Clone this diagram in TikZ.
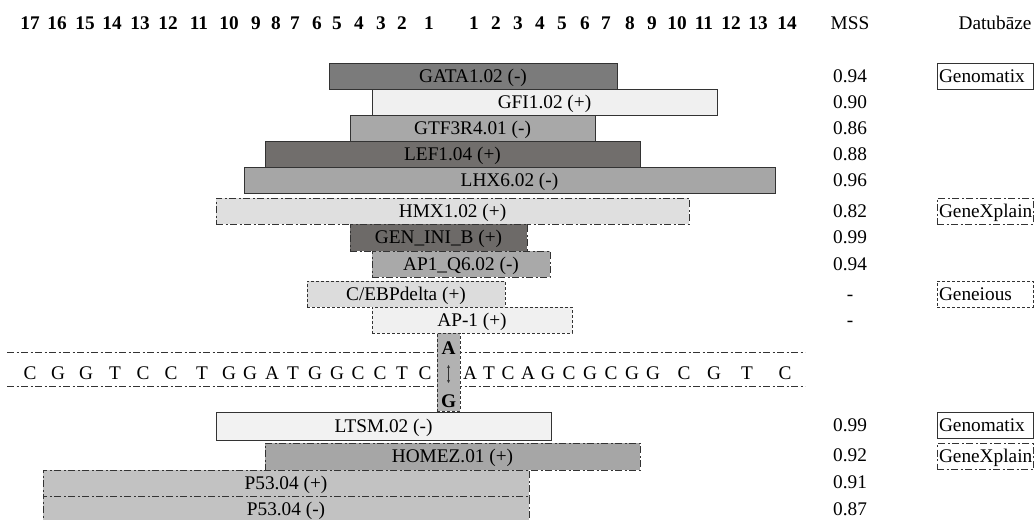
\documentclass[tikz,border=0pt]{standalone}
\usepackage{fontspec}
\setmainfont{Liberation Serif}
\usetikzlibrary{arrows.meta}
\definecolor{cGATA}{HTML}{7B7B7B}
\definecolor{cGFI}{HTML}{F0F0F0}
\definecolor{cGTF}{HTML}{A8A8A8}
\definecolor{cLEF}{HTML}{716E6C}
\definecolor{cLHX}{HTML}{A6A6A6}
\definecolor{cHMX}{HTML}{DFDFDF}
\definecolor{cGEN}{HTML}{6D6A68}
\definecolor{cAPQ}{HTML}{A9A9A9}
\definecolor{cCEB}{HTML}{DCDCDC}
\definecolor{cAPO}{HTML}{F0F0F0}
\definecolor{cMUT}{HTML}{B2B2B2}
\definecolor{cLTS}{HTML}{F2F2F2}
\definecolor{cHOM}{HTML}{A6A6A6}
\definecolor{cP53}{HTML}{C2C2C2}
\definecolor{edge}{HTML}{333333}
\begin{document}
\begin{tikzpicture}[x=1pt,y=-1pt,
  every node/.style={font=\fontsize{19.3}{22}\selectfont, inner sep=0pt, text height=14pt, text depth=2pt},
  hdr/.style={font=\fontsize{19.3}{22}\selectfont\bfseries},
  bar/.style={draw=edge, line width=0.8pt, minimum height=26pt},
  ddbar/.style={bar, dash pattern=on 7pt off 2.5pt on 2pt off 2.5pt},
  dshbar/.style={bar, dash pattern=on 3pt off 2pt},
  dbbox/.style={draw=edge, line width=0.8pt, minimum height=26pt, text width=92pt, inner xsep=2pt, align=left},
  seqline/.style={draw=edge, line width=0.8pt, dash pattern=on 7pt off 2.5pt on 2pt off 2.5pt}]
\fill[white] (0,0) rectangle (1035,519);
\useasboundingbox (0,0) rectangle (1035,519);

% header numbers
\foreach \n/\x in {17/30,16/57,15/85,14/112,13/140,12/168,11/199,10/229,9/256,8/276,7/295,6/317,5/337,4/359,3/381,2/402,1/429}
  \node[hdr] (hl\n) at (\x,24) {\n};
\foreach \n/\x in {1/474,2/496,3/518,4/540,5/562,6/585,7/606,8/630,9/652,10/677,11/704,12/731,13/758,14/787}
  \node[hdr] (hr\n) at (\x,24) {\n};
\node (mss) at (850,24) {MSS};
\node (datu) at (995,24) {Datubāze};

% upper bars
\node[bar, fill=cGATA, minimum width=288pt] (gata) at (473,76) {GATA1.02 (-)};
\node[bar, fill=cGFI, minimum width=345pt] (gfi) at (544.5,102) {GFI1.02 (+)};
\node[bar, fill=cGTF, minimum width=245pt] (gtf) at (472.5,128) {GTF3R4.01 (-)};
\node[bar, fill=cLEF, minimum width=375pt] (lef) at (452.5,154) {LEF1.04 (+)};
\node[bar, fill=cLHX, minimum width=531pt] (lhx) at (509.5,180) {LHX6.02 (-)};
\node[ddbar, fill=cHMX, minimum width=473pt] (hmx) at (452.5,211) {HMX1.02 (+)};
\node[ddbar, fill=cGEN, minimum width=177pt, minimum height=27pt] (gen) at (438.5,237.5) {GEN\_INI\_B (+)};
\node[ddbar, fill=cAPQ, minimum width=178pt] (apq) at (461,264) {AP1\_Q6.02 (-)};
\node[dshbar, fill=cCEB, minimum width=198pt] (ceb) at (406,294) {C/EBPdelta (+)};
\node[dshbar, fill=cAPO, minimum width=200pt] (apo) at (472,320) {AP-1 (+)};

% sequence band
\coordinate (sTL) at (7,352);
\coordinate (sTR) at (805,352);
\coordinate (sBL) at (7,386);
\coordinate (sBR) at (805,386);
\draw[seqline] (sTL) -- (sTR);
\draw[seqline] (sBL) -- (sBR);
\foreach \i/\x/\c in {1/30/C,2/58/G,3/86/G,4/115/T,5/143/C,6/171/C,7/202/T,8/229/G,9/250/G,10/272/A,11/293/T,12/315/G,13/337/G,14/358/C,15/380/C,16/402/T,17/425/C}
  \node (sl\i) at (\x,373) {\c};
\foreach \i/\x/\c in {1/470/A,2/489/T,3/508/C,4/528/A,5/548/G,6/569/C,7/590/G,8/611/C,9/632/G,10/653/G,11/684/C,12/714/G,13/747/T,14/785/C}
  \node (sr\i) at (\x,373) {\c};

% mutation column
\node[draw=edge, line width=0.6pt, dash pattern=on 3pt off 2pt, fill=cMUT, minimum width=23pt, minimum height=78pt] (mut) at (448.5,372) {};
\node[hdr] (mA) at (448.5,348) {A};
\node[hdr] (mG) at (448.5,401) {G};
\coordinate (arT) at (448.5,365);
\coordinate (arB) at (448.5,383);
\draw[{Stealth[length=3pt,width=3pt]}-{Stealth[length=3pt,width=3pt]}, line width=0.5pt, draw=edge] (arT) -- (arB);

% lower bars
\node[bar, fill=cLTS, minimum width=335pt, minimum height=28pt] (ltsm) at (383.5,426) {LTSM.02 (-)};
\node[ddbar, fill=cHOM, minimum width=375pt, minimum height=27pt] (homez) at (452.5,456.5) {HOMEZ.01 (+)};
\node[ddbar, fill=cP53, minimum width=486pt, minimum height=26pt] (p53p) at (286,483) {P53.04 (+)};
\node[ddbar, fill=cP53, minimum width=486pt, minimum height=26pt] (p53m) at (286,509) {P53.04 (-)};

% MSS values
\foreach \i/\y/\v in {1/76/0.94,2/102/0.90,3/128/0.86,4/154/0.88,5/180/0.96,6/211/0.82,7/237.5/0.99,8/264/0.94,9/294/-,10/320/-,11/425/0.99,12/455/0.92,13/482/0.91,14/509/0.87}
  \node (mss\i) at (850,\y) {\v};

% databases
\node[dbbox] (db1) at (985,76) {Genomatix};
\node[dbbox, dash pattern=on 7pt off 2.5pt on 2pt off 2.5pt] (db2) at (985,211) {GeneXplain};
\node[dbbox, dash pattern=on 3pt off 2pt] (db3) at (985,294) {Geneious};
\node[dbbox] (db4) at (985,425.5) {Genomatix};
\node[dbbox, dash pattern=on 7pt off 2.5pt on 2pt off 2.5pt] (db5) at (985,456.5) {GeneXplain};
\end{tikzpicture}
\end{document}
